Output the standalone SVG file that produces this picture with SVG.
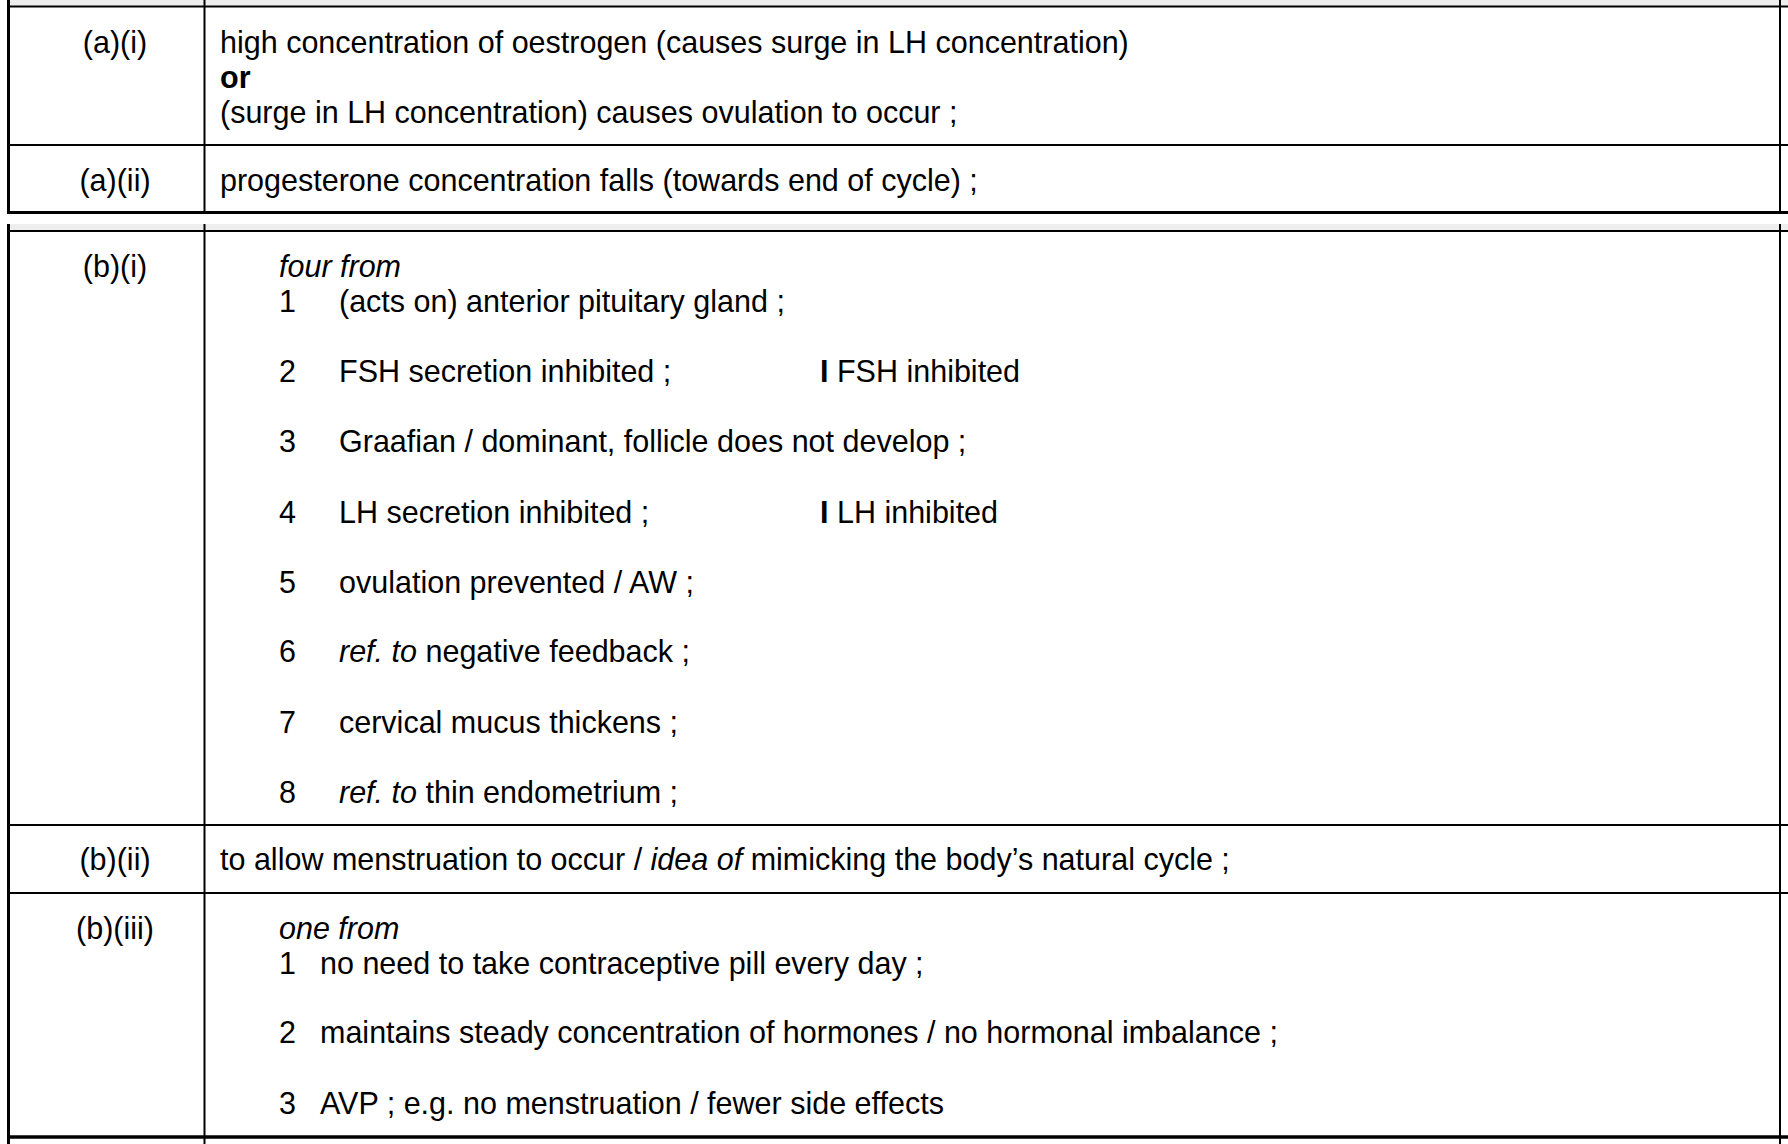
<svg xmlns="http://www.w3.org/2000/svg" width="1788" height="1144" viewBox="0 0 1788 1144">
<style>
text{font-family:"Liberation Sans",Arial,sans-serif;font-size:30.5px;fill:#000}
.lbl{text-anchor:middle}
.b{font-weight:bold}
.i{font-style:italic}
.ln{stroke:#000;fill:none}
.band{fill:#eeeeee}
</style>
<rect x="0" y="0" width="1788" height="1144" fill="#fff"/>
<g id="connectors">
<rect class="band" x="10" y="0" width="1778" height="6"/>
<rect class="band" x="10" y="224" width="1778" height="6"/>
<path class="ln" stroke-width="2" d="M7 6.5H1788M7 145H1788M7 231H1788M7 825H1788M7 893H1788"/>
<path class="ln" stroke-width="3" d="M7 212.5H1788"/>
<path class="ln" stroke-width="3.5" d="M7 1137H1788"/>
<path class="ln" stroke-width="3" d="M8.5 0V214M8.5 224V1144"/>
<path class="ln" stroke-width="2" d="M204.5 0V212M204.5 224V1144M1780 0V212M1780 224V1144"/>
</g>
<g id="row-a-i">
<text class="lbl" x="115" y="53">(a)(i)</text>
<text x="220" y="53">high concentration of oestrogen (causes surge in LH concentration)</text>
<text x="220" y="87.5" class="b">or</text>
<text x="220" y="122.5">(surge in LH concentration) causes ovulation to occur ;</text>
</g>
<g id="row-a-ii">
<text class="lbl" x="115" y="191">(a)(ii)</text>
<text x="220" y="191">progesterone concentration falls (towards end of cycle) ;</text>
</g>
<g id="row-b-i">
<text class="lbl" x="115" y="276.5">(b)(i)</text>
<text x="279" y="276.5" class="i">four from</text>
<text x="279" y="311.5">1</text><text x="339" y="311.5">(acts on) anterior pituitary gland ;</text>
<text x="279" y="381.5">2</text><text x="339" y="381.5">FSH secretion inhibited ;</text>
<text x="820" y="381.5"><tspan class="b">I</tspan> FSH inhibited</text>
<text x="279" y="451.5">3</text><text x="339" y="451.5">Graafian / dominant, follicle does not develop ;</text>
<text x="279" y="522.5">4</text><text x="339" y="522.5">LH secretion inhibited ;</text>
<text x="820" y="522.5"><tspan class="b">I</tspan> LH inhibited</text>
<text x="279" y="592.5">5</text><text x="339" y="592.5">ovulation prevented / AW ;</text>
<text x="279" y="661.5">6</text><text x="339" y="661.5"><tspan class="i">ref. to</tspan> negative feedback ;</text>
<text x="279" y="732.5">7</text><text x="339" y="732.5">cervical mucus thickens ;</text>
<text x="279" y="802.5">8</text><text x="339" y="802.5"><tspan class="i">ref. to</tspan> thin endometrium ;</text>
</g>
<g id="row-b-ii">
<text class="lbl" x="115" y="870">(b)(ii)</text>
<text x="220" y="870">to allow menstruation to occur / <tspan class="i">idea of</tspan> mimicking the body’s natural cycle ;</text>
</g>
<g id="row-b-iii">
<text class="lbl" x="115" y="939">(b)(iii)</text>
<text x="279" y="939" class="i">one from</text>
<text x="279" y="974">1</text><text x="320" y="974">no need to take contraceptive pill every day ;</text>
<text x="279" y="1043">2</text><text x="320" y="1043">maintains steady concentration of hormones / no hormonal imbalance ;</text>
<text x="279" y="1114">3</text><text x="320" y="1114">AVP ; e.g. no menstruation / fewer side effects</text>
</g>
</svg>
